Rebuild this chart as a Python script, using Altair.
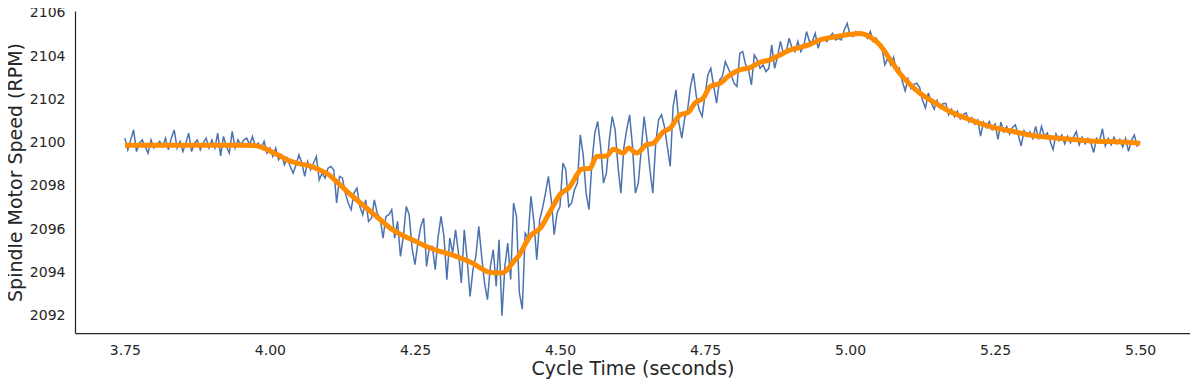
import altair as alt
import pandas as pd

# Raw spindle speed, sampled every 5 ms from 3.75 s
blue_start = 3.75
blue_step = 0.005
blue_values = [
    2100.21, 2099.67, 2100.13, 2100.59, 2099.59, 2099.98, 2100.13, 2099.82, 2099.52, 2100.13,
    2099.75, 2099.90, 2100.06, 2099.82, 2100.21, 2099.67, 2100.21, 2100.59, 2099.75, 2100.06,
    2099.59, 2099.98, 2100.44, 2099.59, 2099.98, 2100.13, 2099.67, 2099.98, 2100.21, 2099.75,
    2100.13, 2099.75, 2100.44, 2099.39, 2100.29, 2099.82, 2099.52, 2100.52, 2099.75, 2100.13,
    2099.90, 2100.13, 2100.21, 2099.90, 2100.29, 2099.82, 2099.98, 2099.75, 2100.06, 2099.52,
    2099.75, 2099.36, 2099.75, 2099.21, 2099.44, 2098.98, 2099.29, 2098.90, 2098.59, 2098.98,
    2099.44, 2099.06, 2098.44, 2099.13, 2098.75, 2099.05, 2099.36, 2098.28, 2098.59, 2098.36,
    2098.82, 2098.90, 2098.75, 2097.21, 2098.44, 2098.36, 2097.67, 2097.21, 2096.90, 2097.67,
    2097.90, 2097.05, 2096.67, 2097.36, 2096.36, 2096.51, 2097.36, 2096.74, 2096.51, 2095.59,
    2096.59, 2096.67, 2096.90, 2095.59, 2096.36, 2094.74, 2095.67, 2097.05, 2096.67, 2095.13,
    2094.36, 2095.36, 2096.13, 2096.51, 2094.28, 2095.20, 2095.20, 2094.13, 2095.67, 2096.59,
    2095.67, 2093.66, 2095.59, 2094.90, 2095.97, 2094.90, 2093.51, 2095.97, 2094.59, 2092.89,
    2094.13, 2094.74, 2096.13, 2094.74, 2093.51, 2092.74, 2094.28, 2095.05, 2093.36, 2095.51,
    2092.00, 2094.28, 2095.36, 2093.67, 2097.21, 2096.59, 2093.05, 2092.30, 2095.82, 2095.59,
    2097.52, 2096.36, 2094.59, 2096.44, 2096.98, 2097.67, 2098.44, 2097.36, 2095.75, 2096.75,
    2097.05, 2099.06, 2098.75, 2097.05, 2097.21, 2097.82, 2098.13, 2100.36, 2099.44, 2097.67,
    2096.90, 2099.06, 2100.44, 2100.98, 2099.83, 2098.13, 2098.60, 2100.13, 2101.21, 2100.60,
    2098.90, 2097.67, 2099.75, 2100.60, 2101.29, 2099.83, 2097.67, 2098.13, 2099.67, 2101.21,
    2100.13, 2098.75, 2097.67, 2099.98, 2101.06, 2101.29, 2100.75, 2099.83, 2098.90, 2101.67,
    2102.44, 2100.90, 2100.21, 2101.14, 2101.52, 2102.60, 2103.21, 2102.14, 2101.52, 2101.21,
    2102.21, 2103.14, 2103.44, 2102.60, 2101.83, 2102.90, 2103.06, 2103.75, 2103.44, 2103.14,
    2102.75, 2102.60, 2104.14, 2104.21, 2103.60, 2103.37, 2102.67, 2104.06, 2103.83, 2103.44,
    2103.60, 2103.29, 2103.44, 2104.52, 2103.44, 2103.98, 2104.68, 2104.14, 2104.21, 2104.83,
    2104.37, 2104.21, 2104.68, 2104.21, 2104.45, 2105.14, 2104.68, 2104.68, 2105.06, 2104.37,
    2104.83, 2104.83, 2104.68, 2104.91, 2105.06, 2104.75, 2104.83, 2104.75, 2105.21, 2105.52,
    2104.98, 2104.91, 2105.14, 2105.06, 2104.98, 2105.06, 2104.83, 2105.14, 2104.68, 2104.83,
    2104.52, 2104.37, 2103.60, 2103.91, 2103.60, 2103.95, 2103.30, 2103.45, 2102.85, 2102.40,
    2102.95, 2102.50, 2102.70, 2102.75, 2102.55, 2101.95, 2101.60, 2102.30, 2101.85, 2101.55,
    2101.95, 2101.60, 2101.80, 2101.82, 2101.30, 2101.55, 2101.20, 2101.45, 2101.10, 2101.30,
    2101.38, 2100.95, 2101.15, 2100.85, 2101.05, 2100.30, 2100.95, 2100.70, 2100.98, 2100.60,
    2100.85, 2100.15, 2100.95, 2100.50, 2100.75, 2100.40, 2100.70, 2100.82, 2100.35, 2099.85,
    2100.55, 2100.30, 2100.50, 2100.20, 2100.75, 2100.15, 2100.75, 2100.30, 2100.45, 2100.05,
    2099.68, 2100.40, 2100.10, 2100.35, 2099.95, 2100.30, 2100.00, 2100.25, 2100.52, 2099.90,
    2100.25, 2099.95, 2100.20, 2100.00, 2099.55, 2100.20, 2100.05, 2100.65, 2099.85, 2100.20,
    2099.90, 2100.25, 2099.95, 2100.15, 2099.80, 2100.20, 2099.60, 2100.10, 2100.35, 2099.85,
    2100.05,
]

# Smoothed trend
orange_t = [
    3.750, 3.800, 3.850, 3.900, 3.950, 3.970, 3.985, 4.000, 4.015, 4.030,
    4.050, 4.070, 4.085, 4.100, 4.115, 4.130, 4.150, 4.170, 4.190, 4.210,
    4.230, 4.250, 4.270, 4.290, 4.310, 4.330, 4.350, 4.370, 4.380, 4.400,
    4.410, 4.420, 4.431, 4.440, 4.448, 4.466, 4.483, 4.500, 4.517, 4.530,
    4.537, 4.552, 4.563, 4.580, 4.592, 4.609, 4.618, 4.632, 4.649, 4.661,
    4.678, 4.690, 4.707, 4.721, 4.733, 4.747, 4.759, 4.776, 4.793, 4.810,
    4.828, 4.845, 4.862, 4.879, 4.897, 4.914, 4.931, 4.948, 4.966, 4.983,
    5.000, 5.017, 5.034, 5.052, 5.069, 5.086, 5.103, 5.120, 5.138, 5.155,
    5.172, 5.190, 5.207, 5.224, 5.241, 5.258, 5.276, 5.293, 5.310, 5.345,
    5.379, 5.414, 5.448, 5.500,
]
orange_v = [
    2099.88, 2099.88, 2099.88, 2099.88, 2099.88, 2099.87, 2099.80, 2099.62, 2099.42, 2099.20,
    2099.03, 2098.92, 2098.75, 2098.55, 2098.20, 2097.82, 2097.35, 2096.90, 2096.45, 2096.00,
    2095.70, 2095.45, 2095.20, 2095.00, 2094.85, 2094.65, 2094.42, 2094.10, 2094.00, 2093.98,
    2094.15, 2094.50, 2094.85, 2095.30, 2095.66, 2096.05, 2096.82, 2097.60, 2097.97, 2098.55,
    2098.78, 2098.82, 2099.36, 2099.38, 2099.70, 2099.52, 2099.75, 2099.52, 2099.90, 2099.98,
    2100.50, 2100.67, 2101.29, 2101.40, 2101.85, 2102.06, 2102.60, 2102.75, 2103.13, 2103.37,
    2103.47, 2103.72, 2103.83, 2104.06, 2104.29, 2104.41, 2104.55, 2104.75, 2104.86, 2104.94,
    2105.01, 2105.05, 2104.90, 2104.50, 2103.85, 2103.20, 2102.70, 2102.30, 2101.98, 2101.70,
    2101.44, 2101.24, 2101.06, 2100.89, 2100.75, 2100.64, 2100.55, 2100.45, 2100.36, 2100.24,
    2100.16, 2100.08, 2100.05, 2099.98,
]

x_ticks = [3.75, 4.00, 4.25, 4.50, 4.75, 5.00, 5.25, 5.50]
y_ticks = [2092, 2094, 2096, 2098, 2100, 2102, 2104, 2106]

blue_df = pd.DataFrame({
    "t": [round(blue_start + i * blue_step, 3) for i in range(len(blue_values))],
    "rpm": blue_values,
})
orange_df = pd.DataFrame({"t": orange_t, "rpm": orange_v})

xs = alt.Scale(domain=[3.664, 5.586], nice=False, zero=False)
ys = alt.Scale(domain=[2091.2, 2106.09], nice=False, zero=False)

x_enc = alt.X("t:Q", scale=xs,
              axis=alt.Axis(values=x_ticks, format=".2f", title="Cycle Time (seconds)",
                            labelPadding=10, titlePadding=2))
y_enc = alt.Y("rpm:Q", scale=ys,
              axis=alt.Axis(values=y_ticks, format="d", title="Spindle Motor Speed (RPM)",
                            labelPadding=10, titlePadding=4))

blue = alt.Chart(blue_df).mark_line(color="#4c72b0", strokeWidth=1.5).encode(x=x_enc, y=y_enc)
orange = alt.Chart(orange_df).mark_line(color="#ff8c00", strokeWidth=5,
                                        interpolate="monotone").encode(x="t:Q", y="rpm:Q")

chart = (
    alt.layer(blue, orange)
    .properties(width=1115, height=322,
                autosize=alt.AutoSizeParams(type="none"),
                padding={"left": 67, "top": 3, "right": 0, "bottom": 46},
                background="white")
    .configure_view(strokeWidth=0)
    .configure_axis(grid=False, ticks=False, domainColor="#262626", domainWidth=1.25,
                    labelColor="#262626", labelFont="DejaVu Sans", labelFontSize=14,
                    titleFont="DejaVu Sans", titleFontSize=19, titleFontWeight="normal",
                    titleColor="#262626")
)

chart.save("out.html", embed_options={"renderer": "svg", "actions": False})
